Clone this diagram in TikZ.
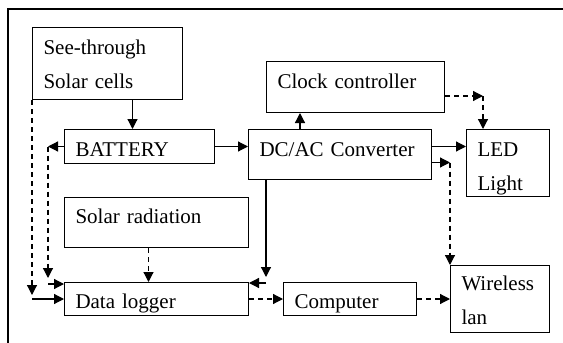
\documentclass[tikz,border=0pt]{standalone}
\usepackage{fontspec}
\setmainfont{Liberation Serif}
\usetikzlibrary{positioning,calc,arrows.meta}

\begin{document}
\begin{tikzpicture}[
    x=1pt, y=-1pt,
    every node/.style={font=\fontsize{21}{34}\selectfont},
    box/.style={rectangle, draw, line width=1pt, anchor=north west, align=left, inner xsep=11pt, inner ysep=0pt},
    arrow/.style={-{Triangle[length=10pt,width=10pt]}, line width=1.2pt},
    dashedarrow/.style={-{Triangle[length=10pt,width=10pt]}, line width=1.2pt, dash pattern=on 5pt off 4pt}
]
\useasboundingbox (0,0) rectangle (563,343);

% Outer frame
\draw[line width=1.4pt] (563,9) -- (8,9) -- (8,343);

% Boxes
\node[box, text width=128pt, text height=27pt, text depth=45pt] (cells) at (32,27) {See-through\\Solar cells};
\node[box, text width=128pt, text height=27pt, text depth=7pt] (battery) at (64,129) {BATTERY};
\node[box, text width=156pt, text height=27pt, text depth=24pt] (clock) at (266,61) {Clock controller};
\node[box, text width=161pt, text height=27pt, text depth=23pt] (dcac) at (248,129) {DC/AC Converter};
\node[box, text width=61pt, text height=27pt, text depth=40pt] (led) at (466,129) {LED\\Light};
\node[box, text width=162pt, text height=26pt, text depth=24pt] (solrad) at (64,197) {Solar radiation};
\node[box, text width=162pt, text height=26pt, text depth=7pt] (datalog) at (64,282) {Data logger};
\node[box, text width=111pt, text height=26pt, text depth=7pt] (comp) at (283,282) {Computer};
\node[box, text width=77pt, text height=25pt, text depth=42pt] (wlan) at (450,265) {Wireless\\lan};

% Joints
\coordinate (bt) at ([xshift=-7pt]battery.north);
\coordinate (bw) at ([xshift=-16pt]battery.west);
\coordinate (dlA) at ([yshift=-2pt]datalog.north west);
\coordinate (dlB) at ([yshift=-1pt]datalog.north east);
\coordinate (dv) at ([xshift=18pt]dcac.south west);
\coordinate (cu) at ([xshift=52pt]dcac.north west);
\coordinate (ce) at ([yshift=-9pt]clock.east);
\coordinate (lt) at ([xshift=17pt]led.north west);
\coordinate (de) at ([yshift=-8pt]dcac.east);

% Solid connectors
\draw[arrow] (cells.south -| bt) -- (bt);
\draw[arrow] (battery.east) -- (battery.east -| dcac.west);
\draw[arrow] (battery.west) -- (bw);
\draw[arrow] (bw |- dlA) -- (dlA);
\draw[arrow] (cells.south west |- datalog) -- (datalog.west);
\draw[arrow] (dv) -- ($(dv |- dlB)+(0,-6)$);
\draw[arrow] (dv |- dlB) -- (dlB);
\draw[arrow] (cu) -- (cu |- clock.south);
\draw[arrow] (dcac.east |- battery.east) -- (led.west |- battery.east);
\draw[arrow] (de) -- (de -| wlan.west);

% Dashed connectors
\draw[dashedarrow] (bw) -- ($(bw |- dlA)+(0,-6)$);
\draw[dashedarrow] (cells.south west) -- ($(cells.south west |- datalog)+(0,-4)$);
\draw[dashedarrow] ([xshift=-8pt]solrad.south) -- ([xshift=-8pt]datalog.north);
\draw[dashedarrow] (ce) -- (lt |- ce);
\draw[dashedarrow] (lt |- ce) -- (lt);
\draw[dashedarrow] (de -| wlan.west) -- (wlan.north west);
\draw[dashedarrow] (datalog.east) -- (comp.west);
\draw[dashedarrow] (comp.east) -- (wlan.west);

\end{tikzpicture}
\end{document}
